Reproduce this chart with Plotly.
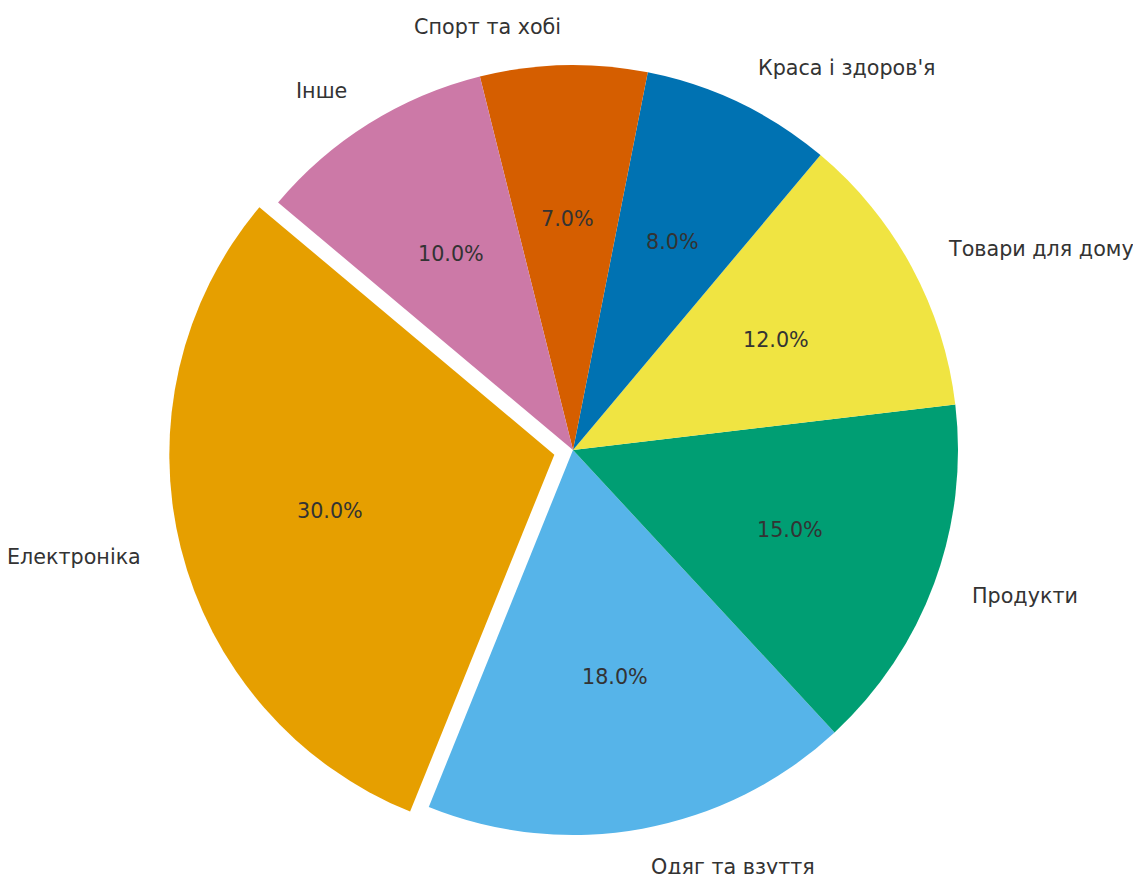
import math
import plotly.graph_objects as go

# Market share by product category
categories = ["Електроніка", "Одяг та взуття", "Продукти", "Товари для дому",
              "Краса і здоров'я", "Спорт та хобі", "Інше"]
shares = [30, 18, 15, 12, 8, 7, 10]
colors = ["#E69F00", "#56B4E9", "#009E73", "#F0E442", "#0072B2", "#D55E00", "#CC79A7"]
explode = [0.05, 0, 0, 0, 0, 0, 0]

# Figure geometry (pixels)
W, H = 1133, 874
CX, CY, R = 573, 450, 385
START_ANGLE = 140          # degrees, counter-clockwise from the +x axis
LABEL_DIST = 1.1
PCT_DIST = 0.6
TEXT_COLOR = "#333333"
FONT = "DejaVu Sans"
FONT_SIZE = 20.7

total = sum(shares)
max_pull = max(explode)
box = 2 * R * (1 + max_pull)

# Plotly's rotation marks the end edge of the first slice when going counter-clockwise
rotation = 90 - START_ANGLE - 360 * shares[0] / total

fig = go.Figure(go.Pie(
    labels=categories,
    values=shares,
    marker=dict(colors=colors, line=dict(width=0)),
    pull=explode,
    sort=False,
    direction="counterclockwise",
    rotation=rotation,
    textinfo="none",
    hoverinfo="label+percent",
    showlegend=False,
    domain=dict(
        x=[(CX - box / 2) / W, (CX + box / 2) / W],
        y=[1 - (CY + box / 2) / H, 1 - (CY - box / 2) / H],
    ),
))

annotations = []
theta = START_ANGLE
for name, v, ex in zip(categories, shares, explode):
    span = 360 * v / total
    mid = math.radians(theta + span / 2)
    theta += span
    c, s = math.cos(mid), math.sin(mid)
    # category label outside the slice
    lx = CX + (LABEL_DIST + ex) * R * c
    ly = CY - (LABEL_DIST + ex) * R * s
    annotations.append(dict(
        x=lx / W, y=1 - ly / H, xref="paper", yref="paper",
        text=name, showarrow=False,
        xanchor="left" if c > 0 else "right", yanchor="middle",
        font=dict(family=FONT, size=FONT_SIZE, color=TEXT_COLOR),
    ))
    # percentage inside the slice
    px = CX + (PCT_DIST + ex) * R * c
    py = CY - (PCT_DIST + ex) * R * s
    annotations.append(dict(
        x=px / W, y=1 - py / H, xref="paper", yref="paper",
        text=f"{100 * v / total:.1f}%", showarrow=False,
        xanchor="center", yanchor="middle",
        font=dict(family=FONT, size=FONT_SIZE, color=TEXT_COLOR),
    ))

fig.update_layout(
    width=W, height=H,
    margin=dict(l=0, r=0, t=0, b=0),
    paper_bgcolor="white",
    plot_bgcolor="white",
    annotations=annotations,
)

fig.write_html("out.html")
